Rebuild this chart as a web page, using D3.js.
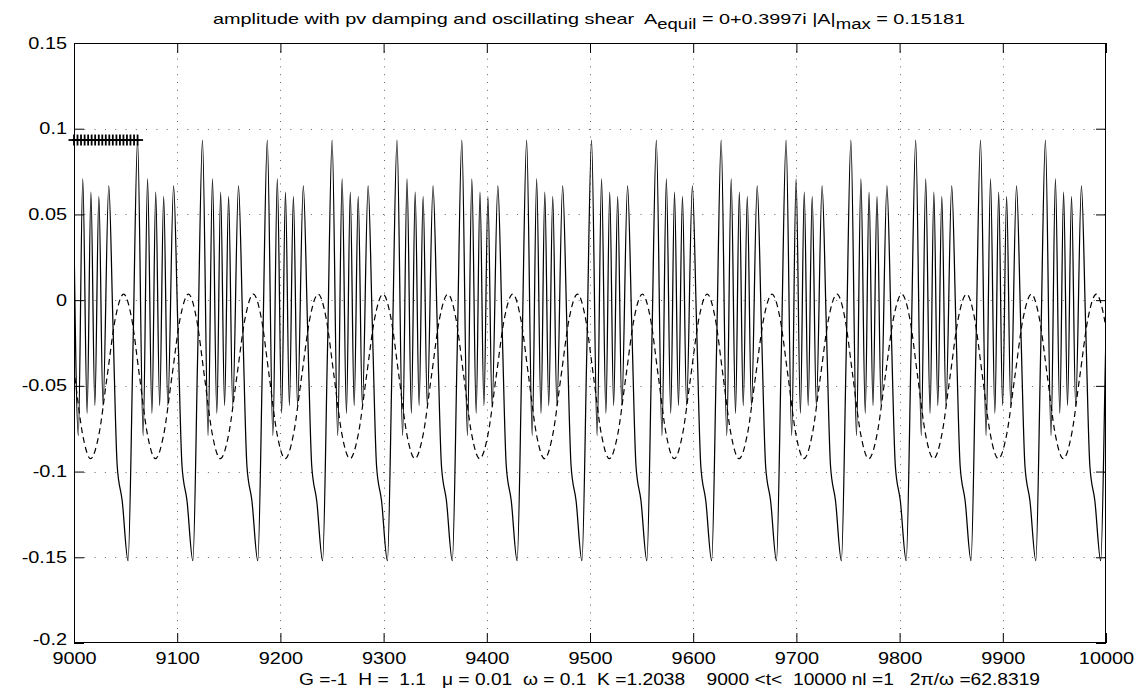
<!DOCTYPE html>
<html>
<head>
<meta charset="utf-8">
<script src="https://cdn.jsdelivr.net/npm/d3@7/dist/d3.min.js"></script>
<style>
  html, body { margin: 0; padding: 0; background: #fff; }
  svg { display: block; }
  text { font-family: "Liberation Sans", Arial, Helvetica, sans-serif; fill: #000; }
</style>
</head>
<body>
<svg id="chart" width="1145" height="693"></svg>
<script>
// ---------------- data ----------------
const xTicks = [9000, 9100, 9200, 9300, 9400, 9500, 9600, 9700, 9800, 9900, 10000];
const yTicks = [-0.2, -0.15, -0.1, -0.05, 0, 0.05, 0.1, 0.15];
const yTickLabels = ["-0.2", "-0.15", "-0.1", "-0.05", "0", "0.05", "0.1", "0.15"];

// solid curve: time samples (one row per forcing period) and amplitude values
const solidT = [
  8998.8, 9004.2, 9008.5, 9012.7, 9016.4, 9020.2, 9024.1, 9028.1, 9033.7, 9037.8, 9041.9, 9046.7, 9052.4, 9057.1,
  9061.6, 9067.0, 9071.3, 9075.5, 9079.2, 9083.0, 9086.9, 9090.9, 9096.5, 9100.6, 9104.7, 9109.5, 9115.2, 9119.9,
  9124.5, 9129.9, 9134.2, 9138.4, 9142.1, 9145.9, 9149.8, 9153.8, 9159.4, 9163.5, 9167.6, 9172.4, 9178.1, 9182.8,
  9187.3, 9192.7, 9197.0, 9201.2, 9204.9, 9208.7, 9212.6, 9216.6, 9222.2, 9226.3, 9230.4, 9235.2, 9240.9, 9245.6,
  9250.1, 9255.5, 9259.8, 9264.0, 9267.7, 9271.5, 9275.4, 9279.4, 9285.0, 9289.1, 9293.2, 9298.0, 9303.7, 9308.4,
  9313.0, 9318.4, 9322.7, 9326.9, 9330.6, 9334.4, 9338.3, 9342.3, 9347.9, 9352.0, 9356.1, 9360.9, 9366.6, 9371.3,
  9375.8, 9381.2, 9385.5, 9389.7, 9393.4, 9397.2, 9401.1, 9405.1, 9410.7, 9414.8, 9418.9, 9423.7, 9429.4, 9434.1,
  9438.6, 9444.0, 9448.3, 9452.5, 9456.2, 9460.0, 9463.9, 9467.9, 9473.5, 9477.6, 9481.7, 9486.5, 9492.2, 9496.9,
  9501.5, 9506.9, 9511.2, 9515.4, 9519.1, 9522.9, 9526.8, 9530.8, 9536.4, 9540.5, 9544.6, 9549.4, 9555.1, 9559.8,
  9564.3, 9569.7, 9574.0, 9578.2, 9581.9, 9585.7, 9589.6, 9593.6, 9599.2, 9603.3, 9607.4, 9612.2, 9617.9, 9622.6,
  9627.1, 9632.5, 9636.8, 9641.0, 9644.7, 9648.5, 9652.4, 9656.4, 9662.0, 9666.1, 9670.2, 9675.0, 9680.7, 9685.4,
  9690.0, 9695.4, 9699.7, 9703.9, 9707.6, 9711.4, 9715.3, 9719.3, 9724.9, 9729.0, 9733.1, 9737.9, 9743.6, 9748.3,
  9752.8, 9758.2, 9762.5, 9766.7, 9770.4, 9774.2, 9778.1, 9782.1, 9787.7, 9791.8, 9795.9, 9800.7, 9806.4, 9811.1,
  9815.6, 9821.0, 9825.3, 9829.5, 9833.2, 9837.0, 9840.9, 9844.9, 9850.5, 9854.6, 9858.7, 9863.5, 9869.2, 9873.9,
  9878.4, 9883.8, 9888.1, 9892.3, 9896.0, 9899.8, 9903.7, 9907.7, 9913.3, 9917.4, 9921.5, 9926.3, 9932.0, 9936.7,
  9941.3, 9946.7, 9951.0, 9955.2, 9958.9, 9962.7, 9966.6, 9970.6, 9976.2, 9980.3, 9984.4, 9989.2, 9994.9, 9999.6,
  10004.1
];
const solidA = [
  0.0934, -0.079, 0.0708, -0.066, 0.0630, -0.0615, 0.0605, -0.0615, 0.0667, -0.015, -0.097, -0.117, -0.152, -0.030,
  0.0934, -0.079, 0.0708, -0.066, 0.0630, -0.0615, 0.0605, -0.0615, 0.0667, -0.015, -0.097, -0.117, -0.152, -0.030,
  0.0934, -0.079, 0.0708, -0.066, 0.0630, -0.0615, 0.0605, -0.0615, 0.0667, -0.015, -0.097, -0.117, -0.152, -0.030,
  0.0934, -0.079, 0.0708, -0.066, 0.0630, -0.0615, 0.0605, -0.0615, 0.0667, -0.015, -0.097, -0.117, -0.152, -0.030,
  0.0934, -0.079, 0.0708, -0.066, 0.0630, -0.0615, 0.0605, -0.0615, 0.0667, -0.015, -0.097, -0.117, -0.152, -0.030,
  0.0934, -0.079, 0.0708, -0.066, 0.0630, -0.0615, 0.0605, -0.0615, 0.0667, -0.015, -0.097, -0.117, -0.152, -0.030,
  0.0934, -0.079, 0.0708, -0.066, 0.0630, -0.0615, 0.0605, -0.0615, 0.0667, -0.015, -0.097, -0.117, -0.152, -0.030,
  0.0934, -0.079, 0.0708, -0.066, 0.0630, -0.0615, 0.0605, -0.0615, 0.0667, -0.015, -0.097, -0.117, -0.152, -0.030,
  0.0934, -0.079, 0.0708, -0.066, 0.0630, -0.0615, 0.0605, -0.0615, 0.0667, -0.015, -0.097, -0.117, -0.152, -0.030,
  0.0934, -0.079, 0.0708, -0.066, 0.0630, -0.0615, 0.0605, -0.0615, 0.0667, -0.015, -0.097, -0.117, -0.152, -0.030,
  0.0934, -0.079, 0.0708, -0.066, 0.0630, -0.0615, 0.0605, -0.0615, 0.0667, -0.015, -0.097, -0.117, -0.152, -0.030,
  0.0934, -0.079, 0.0708, -0.066, 0.0630, -0.0615, 0.0605, -0.0615, 0.0667, -0.015, -0.097, -0.117, -0.152, -0.030,
  0.0934, -0.079, 0.0708, -0.066, 0.0630, -0.0615, 0.0605, -0.0615, 0.0667, -0.015, -0.097, -0.117, -0.152, -0.030,
  0.0934, -0.079, 0.0708, -0.066, 0.0630, -0.0615, 0.0605, -0.0615, 0.0667, -0.015, -0.097, -0.117, -0.152, -0.030,
  0.0934, -0.079, 0.0708, -0.066, 0.0630, -0.0615, 0.0605, -0.0615, 0.0667, -0.015, -0.097, -0.117, -0.152, -0.030,
  0.0934, -0.079, 0.0708, -0.066, 0.0630, -0.0615, 0.0605, -0.0615, 0.0667, -0.015, -0.097, -0.117, -0.152, -0.030,
  0.0934
];

// dashed curve: time samples and values
const dashT = [
  8993.0,
  9000.7, 9008.4, 9016.1, 9024.1, 9032.1, 9040.1, 9048.1, 9055.8,
  9063.5, 9071.2, 9078.9, 9086.9, 9094.9, 9102.9, 9110.9, 9118.6,
  9126.4, 9134.1, 9141.8, 9149.8, 9157.8, 9165.8, 9173.8, 9181.5,
  9189.2, 9196.9, 9204.6, 9212.6, 9220.6, 9228.6, 9236.6, 9244.3,
  9252.0, 9259.7, 9267.4, 9275.4, 9283.4, 9291.4, 9299.4, 9307.1,
  9314.9, 9322.6, 9330.3, 9338.3, 9346.3, 9354.3, 9362.3, 9370.0,
  9377.7, 9385.4, 9393.1, 9401.1, 9409.1, 9417.1, 9425.1, 9432.8,
  9440.5, 9448.2, 9455.9, 9463.9, 9471.9, 9479.9, 9487.9, 9495.6,
  9503.4, 9511.1, 9518.8, 9526.8, 9534.8, 9542.8, 9550.8, 9558.5,
  9566.2, 9573.9, 9581.6, 9589.6, 9597.6, 9605.6, 9613.6, 9621.3,
  9629.0, 9636.7, 9644.4, 9652.4, 9660.4, 9668.4, 9676.4, 9684.1,
  9691.9, 9699.6, 9707.3, 9715.3, 9723.3, 9731.3, 9739.3, 9747.0,
  9754.7, 9762.4, 9770.1, 9778.1, 9786.1, 9794.1, 9802.1, 9809.8,
  9817.5, 9825.2, 9832.9, 9840.9, 9848.9, 9856.9, 9864.9, 9872.6,
  9880.3, 9888.0, 9895.7, 9903.7, 9911.7, 9919.7, 9927.7, 9935.4,
  9943.2, 9950.9, 9958.6, 9966.6, 9974.6, 9982.6, 9990.6, 9998.3,
  10006.0
];
const dashA = [
  -0.0105,
  -0.0445, -0.0785, -0.0925, -0.0785, -0.0445, -0.0105, 0.0035, -0.0105,
  -0.0445, -0.0785, -0.0925, -0.0785, -0.0445, -0.0105, 0.0035, -0.0105,
  -0.0445, -0.0785, -0.0925, -0.0785, -0.0445, -0.0105, 0.0035, -0.0105,
  -0.0445, -0.0785, -0.0925, -0.0785, -0.0445, -0.0105, 0.0035, -0.0105,
  -0.0445, -0.0785, -0.0925, -0.0785, -0.0445, -0.0105, 0.0035, -0.0105,
  -0.0445, -0.0785, -0.0925, -0.0785, -0.0445, -0.0105, 0.0035, -0.0105,
  -0.0445, -0.0785, -0.0925, -0.0785, -0.0445, -0.0105, 0.0035, -0.0105,
  -0.0445, -0.0785, -0.0925, -0.0785, -0.0445, -0.0105, 0.0035, -0.0105,
  -0.0445, -0.0785, -0.0925, -0.0785, -0.0445, -0.0105, 0.0035, -0.0105,
  -0.0445, -0.0785, -0.0925, -0.0785, -0.0445, -0.0105, 0.0035, -0.0105,
  -0.0445, -0.0785, -0.0925, -0.0785, -0.0445, -0.0105, 0.0035, -0.0105,
  -0.0445, -0.0785, -0.0925, -0.0785, -0.0445, -0.0105, 0.0035, -0.0105,
  -0.0445, -0.0785, -0.0925, -0.0785, -0.0445, -0.0105, 0.0035, -0.0105,
  -0.0445, -0.0785, -0.0925, -0.0785, -0.0445, -0.0105, 0.0035, -0.0105,
  -0.0445, -0.0785, -0.0925, -0.0785, -0.0445, -0.0105, 0.0035, -0.0105,
  -0.0445, -0.0785, -0.0925, -0.0785, -0.0445, -0.0105, 0.0035, -0.0105,
  -0.0445
];

// '+' markers along the first period at the maximum level
const markerT = [9000.0, 9003.4, 9006.8, 9010.3, 9013.7, 9017.1, 9020.5, 9024.0, 9027.4, 9030.8,
                 9034.2, 9037.6, 9041.1, 9044.5, 9047.9, 9051.3, 9054.7, 9058.2, 9061.6];
const markerA = [0.0934, 0.0934, 0.0934, 0.0934, 0.0934, 0.0934, 0.0934, 0.0934, 0.0934, 0.0934,
                 0.0934, 0.0934, 0.0934, 0.0934, 0.0934, 0.0934, 0.0934, 0.0934, 0.0934];

// ---------------- layout ----------------
const W = 1145, H = 693;
const L = 74, R = 1106, T = 43, B = 643;
const svg = d3.select("#chart");
svg.append("rect").attr("width", W).attr("height", H).attr("fill", "#fff");

const x = d3.scaleLinear().domain([9000, 10000]).range([L, R]);
const y = d3.scaleLinear().domain([-0.2, 0.15]).range([B, T]);

const SX = 1.17; // horizontal stretch of the fonts in the reference

// grid
const grid = svg.append("g").attr("stroke", "#666").attr("stroke-width", 1);
grid.selectAll("line.gx").data(xTicks.slice(1, -1)).join("line")
  .attr("x1", d => Math.round(x(d)) + 0.5).attr("x2", d => Math.round(x(d)) + 0.5)
  .attr("y1", T).attr("y2", B)
  .attr("stroke-dasharray", "1,6.8");
grid.selectAll("line.gy").data(yTicks.slice(1, -1)).join("line")
  .attr("y1", d => Math.round(y(d)) + 0.5).attr("y2", d => Math.round(y(d)) + 0.5)
  .attr("x1", L).attr("x2", R)
  .attr("stroke-dasharray", "1,9.3");

// clip
svg.append("clipPath").attr("id", "clip")
  .append("rect").attr("x", L).attr("y", T).attr("width", R - L).attr("height", B - T);

const plot = svg.append("g").attr("clip-path", "url(#clip)");

const lineCurve = d3.line().x(d => x(d[0])).y(d => y(d[1])).curve(d3.curveMonotoneX);
plot.append("path")
  .datum(solidT.map((t, i) => [t, solidA[i]]))
  .attr("fill", "none").attr("stroke", "#000").attr("stroke-width", 1.25)
  .attr("d", lineCurve);

plot.append("path")
  .datum(dashT.map((t, i) => [t, dashA[i]]))
  .attr("fill", "none").attr("stroke", "#000").attr("stroke-width", 1.2)
  .attr("stroke-dasharray", "6,4")
  .attr("d", lineCurve);

// axes (ticks inside, box)
const tk = 10;
const axB = svg.append("g").attr("transform", `translate(0,${B})`)
  .call(d3.axisBottom(x).tickValues(xTicks).tickSizeInner(-tk).tickSizeOuter(0).tickPadding(9).tickFormat(d3.format("d")));
const axT = svg.append("g").attr("transform", `translate(0,${T})`)
  .call(d3.axisTop(x).tickValues(xTicks).tickSizeInner(-tk).tickSizeOuter(0).tickFormat(""));
const axL = svg.append("g").attr("transform", `translate(${L},0)`)
  .call(d3.axisLeft(y).tickValues(yTicks).tickSizeInner(-tk).tickSizeOuter(0).tickPadding(7)
    .tickFormat((d, i) => yTickLabels[i]));
const axR = svg.append("g").attr("transform", `translate(${R},0)`)
  .call(d3.axisRight(y).tickValues(yTicks).tickSizeInner(-tk).tickSizeOuter(0).tickFormat(""));

[axB, axT, axL, axR].forEach(a => {
  a.select(".domain").remove();
  a.selectAll("line").attr("stroke", "#000").attr("stroke-width", 1);
  a.selectAll("text").attr("font-size", 17).attr("fill", "#000")
    .attr("font-family", "Liberation Sans, Arial, sans-serif");
});
axB.selectAll("text").attr("transform", `scale(${SX},1)`);
axL.selectAll("text").attr("transform", `scale(${SX},1)`).attr("x", -7 / SX)
  .attr("dy", d => d === -0.2 ? "0.1em" : "0.30em");

svg.append("rect").attr("x", L + 0.5).attr("y", T + 0.5).attr("width", R - L - 1).attr("height", B - T - 1)
  .attr("fill", "none").attr("stroke", "#000").attr("stroke-width", 1);

// '+' markers
const mk = svg.append("g").attr("stroke", "#000").attr("stroke-width", 1.8);
markerT.forEach((t, i) => {
  const cx = x(t), cy = y(markerA[i]);
  mk.append("line").attr("x1", cx - 5.5).attr("x2", cx + 5.5).attr("y1", cy).attr("y2", cy);
  mk.append("line").attr("x1", cx).attr("x2", cx).attr("y1", cy - 5.5).attr("y2", cy + 5.5);
});

// title
const title = svg.append("text").attr("x", 589).attr("y", 24).attr("text-anchor", "middle")
  .attr("font-size", 15).style("white-space", "pre")
  .attr("textLength", 752).attr("lengthAdjust", "spacingAndGlyphs");
title.append("tspan").text("amplitude with pv damping and oscillating shear  A");
title.append("tspan").attr("dy", 5).attr("font-size", 14).text("equil");
title.append("tspan").attr("dy", -5).text(" = 0+0.3997i |A|");
title.append("tspan").attr("dy", 5).attr("font-size", 14).text("max");
title.append("tspan").attr("dy", -5).text(" = 0.15181");

// bottom parameter line
svg.append("text").attr("x", 299).attr("y", 685)
  .attr("font-size", 17).style("white-space", "pre")
  .attr("textLength", 741).attr("lengthAdjust", "spacingAndGlyphs")
  .text("G =-1  H =  1.1   \u03bc = 0.01  \u03c9 = 0.1  K =1.2038    9000 <t<  10000 nl =1   2\u03c0/\u03c9 =62.8319");
</script>
</body>
</html>
